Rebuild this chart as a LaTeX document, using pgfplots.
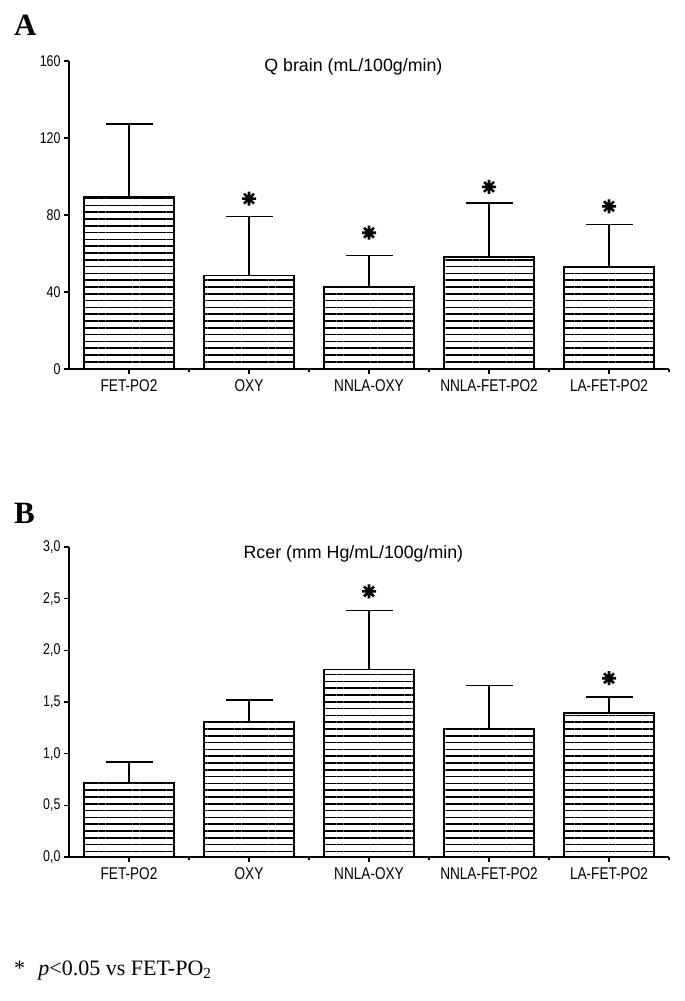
\documentclass[border=0pt]{standalone}
\usepackage{pgfplots}
\pgfplotsset{compat=1.18}
\usepackage{fontspec}
\setmainfont{Liberation Serif}
\newfontfamily\narrowsf[FakeStretch=0.8]{Liberation Sans}
\newfontfamily\plainsf{Liberation Sans}
\usetikzlibrary{patterns.meta}

\pgfdeclareplotmark{star8}{%
 \pgfpathmoveto{\pgfqpoint{0pt}{\pgfplotmarksize}}\pgfpathlineto{\pgfqpoint{0pt}{-\pgfplotmarksize}}%
 \pgfpathmoveto{\pgfqpoint{\pgfplotmarksize}{0pt}}\pgfpathlineto{\pgfqpoint{-\pgfplotmarksize}{0pt}}%
 \pgfpathmoveto{\pgfqpoint{0.707\pgfplotmarksize}{0.707\pgfplotmarksize}}\pgfpathlineto{\pgfqpoint{-0.707\pgfplotmarksize}{-0.707\pgfplotmarksize}}%
 \pgfpathmoveto{\pgfqpoint{0.707\pgfplotmarksize}{-0.707\pgfplotmarksize}}\pgfpathlineto{\pgfqpoint{-0.707\pgfplotmarksize}{0.707\pgfplotmarksize}}%
 \pgfusepathqstroke}

\pgfplotstableread{
x y err
0 89.4 37.8
1 48.6 30.7
2 42.5 16.5
3 58.1 28.0
4 52.9 22.1
}\dataA
\pgfplotstableread{
x y
1 88.5
2 70.8
3 94.6
4 84.5
}\starA
\pgfplotstableread{
x y err
0 0.72 0.20
1 1.31 0.21
2 1.815 0.57
3 1.245 0.415
4 1.395 0.155
}\dataB
\pgfplotstableread{
x y
2 2.57
4 1.73
}\starB

\pgfplotsset{
  panel/.style={
    scale only axis,
    width=600pt,
    xmin=-0.5, xmax=4.5,
    ymin=0,
    axis x line*=bottom,
    axis y line*=left,
    axis line style={-, line width=1.4pt},
    tick align=outside,
    major tick length=5pt,
    minor tick length=2.5pt,
    every tick/.style={black, line width=1.2pt},
    xtick={0,1,2,3,4},
    minor xtick={0.5,1.5,2.5,3.5,4.5},
    xticklabels={FET-PO2,OXY,NNLA-OXY,NNLA-FET-PO2,LA-FET-PO2},
    x tick label style={font=\narrowsf\fontsize{17}{17}\selectfont, yshift=-2pt},
    y tick label style={font=\narrowsf\fontsize{15.5}{15.5}\selectfont},
    /pgf/number format/assume math mode=true,
    title style={font=\plainsf\fontsize{17.8}{18}\selectfont, anchor=center},
    clip=false,
  },
  mybar/.style={
    ybar, bar width=90.5pt, bar shift=0pt,
    draw=black, line width=1.6pt, fill=white,
    postaction={pattern={Lines[angle=0,distance=6.8pt,line width=1.6pt]}, pattern color=black},
    error bars/.cd, y dir=plus, y explicit,
    error bar style={line width=1.6pt, black},
    error mark options={rotate=90, mark size=23.5pt, line width=1.6pt, black},
  },
  mystar/.style={only marks, mark=star8, mark size=7pt, line width=2.6pt, black},
}

\begin{document}
\begin{tikzpicture}
\path[use as bounding box] (0pt,0pt) rectangle (685pt,-1001pt);

\node[anchor=base west, font=\bfseries\fontsize{31}{31}\selectfont, inner sep=0pt] at (14pt,-35pt) {A};
\node[anchor=base west, font=\bfseries\fontsize{31}{31}\selectfont, inner sep=0pt] at (14pt,-523pt) {B};

\begin{axis}[panel,
  at={(69pt,-369pt)}, anchor=south west,
  height=308pt,
  ymax=160,
  ytick={0,40,80,120,160},
  title={Q brain (mL/100g/min)},
  title style={at={(0.474,0.961)}},
]
\addplot[mybar] table[x=x, y=y, y error=err] {\dataA};
\addplot[mystar] table[x=x, y=y] {\starA};
\end{axis}

\begin{axis}[panel,
  at={(69pt,-857pt)}, anchor=south west,
  height=310pt,
  ymax=3,
  ytick={0,0.5,1,1.5,2,2.5,3},
  yticklabel style={/pgf/number format/.cd, fixed, fixed zerofill, precision=1, use comma},
  title={Rcer (mm Hg/mL/100g/min)},
  title style={at={(0.474,0.958)}},
]
\addplot[mybar] table[x=x, y=y, y error=err] {\dataB};
\addplot[mystar] table[x=x, y=y] {\starB};
\end{axis}

\node[anchor=base west, inner sep=0pt, font=\fontsize{22}{26}\selectfont] at (14pt,-975pt) {*\hspace{0.6em}\textit{p}<0.05 vs FET-PO\textsubscript{2}};
\end{tikzpicture}
\end{document}
